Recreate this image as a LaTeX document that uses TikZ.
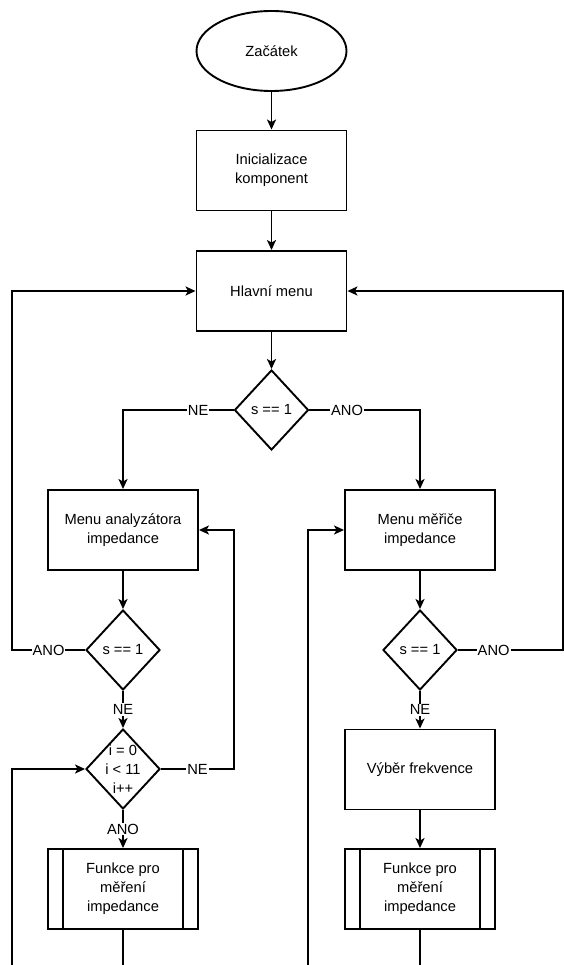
\documentclass[tikz,border=0pt]{standalone}
\usepackage{fontspec}
\setmainfont{Liberation Sans}
\usetikzlibrary{shapes.geometric,arrows.meta}
\begin{document}
\begin{tikzpicture}[x=1pt,y=-1pt,
  line width=1.9pt, line join=miter,
  >={Stealth[length=10pt,width=9pt,inset=2.5pt]},
  every node/.style={font=\fontsize{14.7}{19}\selectfont},
  term/.style={draw, ellipse, minimum width=150pt, minimum height=80pt, inner sep=0pt},
  proc/.style={draw, rectangle, minimum width=150pt, minimum height=80pt, inner sep=0pt, align=center},
  dec/.style={draw, diamond, minimum width=74pt, minimum height=80pt, inner sep=0pt, align=center},
  sub/.style={proc, path picture={
     \draw[line width=1.9pt] ([xshift=15pt]path picture bounding box.north west) -- ([xshift=15pt]path picture bounding box.south west);
     \draw[line width=1.9pt] ([xshift=-15pt]path picture bounding box.north east) -- ([xshift=-15pt]path picture bounding box.south east);}},
  lbl/.style={fill=white, inner sep=1pt}
]
\useasboundingbox (0,0) rectangle (563,965);

\node[term] (start) at (271.5,51) {Začátek};
\node[proc] (init) at (271.5,170.5) {Inicializace\\komponent};
\node[proc] (menu) at (271.5,291) {Hlavní menu};
\node[dec] (d1) at (271.5,410) {s == 1};
\node[proc] (ma) at (123,530) {Menu analyzátora\\impedance};
\node[proc] (mm) at (420,530) {Menu měřiče\\impedance};
\node[dec] (d2) at (123,650) {s == 1};
\node[dec] (d2r) at (420,650) {s == 1};
\node[dec, label={[align=center, font=\fontsize{14.7}{19}\selectfont]center:i = 0\\i < 11\\i++}] (d3) at (123,769) {};
\node[proc] (vf) at (420,769.5) {Výběr frekvence};
\node[sub] (s1) at (123,889) {Funkce pro\\měření\\impedance};
\node[sub] (s2) at (420,889) {Funkce pro\\měření\\impedance};

\coordinate (ll) at (12,650);
\coordinate (rr) at (563,650);
\coordinate (c1) at (234,769);
\coordinate (e1) at (123,966);
\coordinate (e2) at (420,966);
\coordinate (e3) at (12,966);
\coordinate (e4) at (308,966);

\draw[->] (start) -- (init);
\draw[->] (init) -- (menu);
\draw[->] (menu) -- (d1);
\draw[->] (d1.west) -| node[lbl,pos=0.16]{NE} (ma.north);
\draw[->] (d1.east) -| node[lbl,pos=0.17]{ANO} (mm.north);
\draw[->] (ma) -- (d2);
\draw[->] (mm) -- (d2r);
\draw[->] (d2.west) -- node[lbl]{ANO} (ll) |- (menu.west);
\draw[->] (d2r.east) -- node[lbl,pos=0.34]{ANO} (rr) |- (menu.east);
\draw[->] (d2) -- node[lbl]{NE} (d3);
\draw[->] (d2r) -- node[lbl]{NE} (vf);
\draw[->] (d3.east) -- node[lbl]{NE} (c1) |- (ma.east);
\draw[->] (d3) -- node[lbl]{ANO} (s1);
\draw[->] (vf) -- (s2);
\draw (s1) -- (e1);
\draw (s2) -- (e2);
\draw[->] (e3) |- (d3.west);
\draw[->] (e4) |- (mm.west);
\end{tikzpicture}
\end{document}
